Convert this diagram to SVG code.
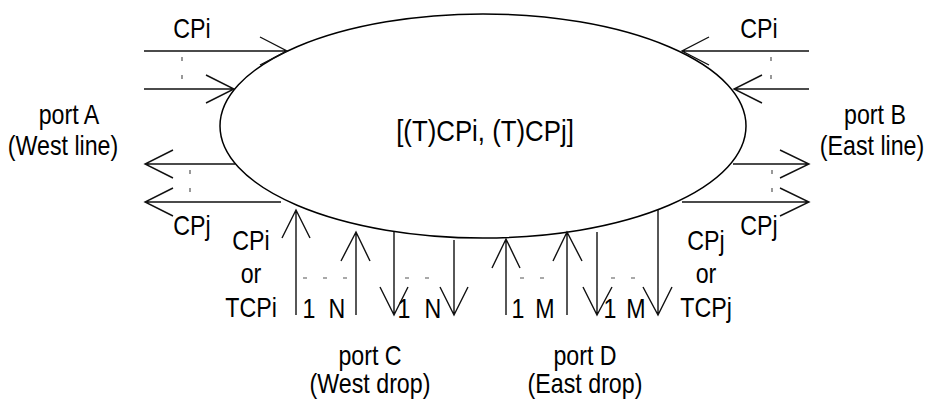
<svg xmlns="http://www.w3.org/2000/svg" width="926" height="402" viewBox="0 0 926 402">
<style>
.t{font-family:"Liberation Sans",Arial,sans-serif;font-size:27px;fill:#000;text-anchor:middle}
.c{font-size:30px}
.l{stroke:#111;stroke-width:1.4;fill:none}
.d{stroke:#555;stroke-width:1.2;fill:none;stroke-dasharray:4 14}
.h{stroke-dasharray:4 16}
</style>
<rect width="926" height="402" fill="#fff"/>
<g id="core">
<ellipse cx="483" cy="126" rx="263" ry="112" fill="none" stroke="#000" stroke-width="1.5"/>
<text class="t c" transform="translate(485 141) scale(.86 1)">[(T)CPi, (T)CPj]</text>
</g>
<g id="connectors">
<path class="l" d="M144 51H287M260 37L287 51L260 65"/>
<path class="l" d="M144 89H234M206 75L234 89L206 103"/>
<path class="d" d="M182 57V84"/>
<path class="l" d="M809 51H682M709 37L682 51L709 65"/>
<path class="l" d="M809 89H734M762 75L734 89L762 103"/>
<path class="d" d="M771 57V84"/>
<path class="l" d="M235 164H145M173 150L145 164L173 178"/>
<path class="l" d="M281 202H145M173 188L145 202L173 216"/>
<path class="d" d="M190 170V197"/>
<path class="l" d="M733 164H809M780 150L809 164L780 178"/>
<path class="l" d="M682 202H809M780 188L809 202L780 216"/>
<path class="d" d="M772 170V197"/>
<path class="l" d="M296 315V210M282 238L296 210L310 238"/>
<path class="l" d="M356 315V232M341 261L356 232L370 261"/>
<path class="l" d="M394 232V315M380 287L394 315L408 287"/>
<path class="l" d="M454 240V315M440 287L454 315L468 287"/>
<path class="d h" d="M303 278H350"/>
<path class="d h" d="M405 278H432"/>
<path class="l" d="M506 315V239M492 268L506 239L520 268"/>
<path class="l" d="M567 315V232M553 261L567 232L582 261"/>
<path class="l" d="M597 232V315M583 287L597 315L612 287"/>
<path class="l" d="M658 210V315M643 287L658 315L672 287"/>
<path class="d h" d="M520 278H547"/>
<path class="d h" d="M611 278H638"/>
</g>
<g id="portA">
<text class="t" transform="translate(69 124) scale(.86 1)">port A</text>
<text class="t" transform="translate(63 155) scale(.86 1)">(West line)</text>
<text class="t" transform="translate(192 38) scale(.86 1)">CPi</text>
<text class="t" transform="translate(192 235) scale(.86 1)">CPj</text>
</g>
<g id="portB">
<text class="t" transform="translate(875 124) scale(.86 1)">port B</text>
<text class="t" transform="translate(872 155) scale(.86 1)">(East line)</text>
<text class="t" transform="translate(759 38) scale(.86 1)">CPi</text>
<text class="t" transform="translate(759 235) scale(.86 1)">CPj</text>
</g>
<g id="portC">
<text class="t" transform="translate(251 250) scale(.86 1)">CPi</text>
<text class="t" transform="translate(251 283) scale(.86 1)">or</text>
<text class="t" transform="translate(251 317) scale(.86 1)">TCPi</text>
<text class="t" transform="translate(309 318) scale(.86 1)">1</text>
<text class="t" transform="translate(337 318) scale(.86 1)">N</text>
<text class="t" transform="translate(404 318) scale(.86 1)">1</text>
<text class="t" transform="translate(433 318) scale(.86 1)">N</text>
<text class="t" transform="translate(370 365) scale(.86 1)">port C</text>
<text class="t" transform="translate(370 393) scale(.86 1)">(West drop)</text>
</g>
<g id="portD">
<text class="t" transform="translate(706 250) scale(.86 1)">CPj</text>
<text class="t" transform="translate(706 283) scale(.86 1)">or</text>
<text class="t" transform="translate(706 317) scale(.86 1)">TCPj</text>
<text class="t" transform="translate(518 318) scale(.86 1)">1</text>
<text class="t" transform="translate(545 318) scale(.86 1)">M</text>
<text class="t" transform="translate(610 318) scale(.86 1)">1</text>
<text class="t" transform="translate(636 318) scale(.86 1)">M</text>
<text class="t" transform="translate(585 365) scale(.86 1)">port D</text>
<text class="t" transform="translate(585 393) scale(.86 1)">(East drop)</text>
</g>
</svg>
